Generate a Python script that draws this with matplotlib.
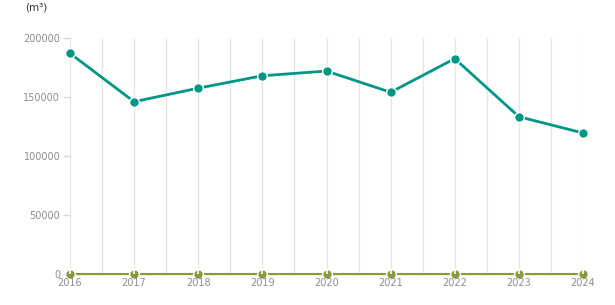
import matplotlib
matplotlib.use("Agg")
import matplotlib.pyplot as plt
import numpy as np

years = [2016, 2017, 2018, 2019, 2020, 2021, 2022, 2023, 2024]
volume = [187000, 146000, 157500, 168000, 172000, 154000, 182500, 133300, 119500]
zero_series = [0, 0, 0, 0, 0, 0, 0, 0, 0]
y_ticks = [0, 50000, 100000, 150000, 200000]
unit_label = "(m³)"

plt.rcParams['font.family'] = ['DejaVu Sans']

fig = plt.figure(figsize=(6.15, 3.05), dpi=100)
ax = fig.add_axes([70/615, 31/305, 513/615, 236/305])

x = np.arange(len(years))

# vertical grid lines at years and midpoints
for xv in np.arange(0, len(years) - 0.5, 0.5):
    ax.axvline(xv, color='#e6e6e6', lw=0.9, zorder=0)

ax.plot(x, zero_series, color='#8a9a3a', lw=1.5, marker='o', ms=7,
        markeredgecolor='white', markeredgewidth=1.0, zorder=3, clip_on=False)
ax.plot(x, volume, color='#009688', lw=2, marker='o', ms=7,
        markeredgecolor='white', markeredgewidth=1.0, zorder=4, clip_on=False)

ax.set_xlim(0, len(years) - 1)
ax.set_ylim(0, 200000)
ax.set_xticks(x)
ax.set_xticklabels([str(y) for y in years])
ax.set_yticks(y_ticks)
ax.set_yticklabels([str(v) for v in y_ticks])

for s in ['top', 'right', 'left']:
    ax.spines[s].set_visible(False)
ax.spines['bottom'].set_color('#cccccc')
ax.spines['bottom'].set_linewidth(1)
ax.spines['bottom'].set_zorder(2)

ax.tick_params(axis='x', colors='white', length=4, width=1.2, direction='in',
               labelcolor='#8c8c8c', labelsize=7, pad=3)
ax.tick_params(axis='y', colors='#d8d8d8', length=5, width=1,
               labelcolor='#8c8c8c', labelsize=7, pad=2)
ax.set_axisbelow(False)
ax.xaxis.set_zorder(6)

fig.text(25/615, 1 - 8/305, unit_label, fontsize=7.5, color='#333333',
         ha='left', va='center')

fig.savefig('out.png', dpi=100)
